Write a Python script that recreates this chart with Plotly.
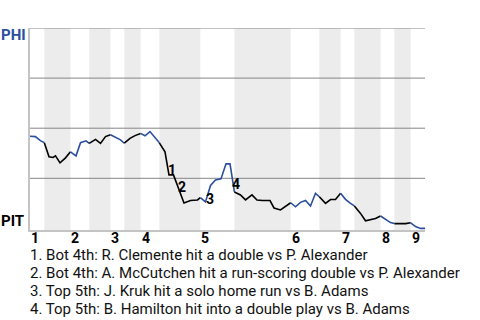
import plotly.graph_objects as go

# Win probability for PHI (0 = PIT wins, 1 = PHI wins), by plate appearance
play_x = [0, 1.1, 2.1, 2.9, 3.85, 4.66, 5.16, 6.08, 7.19, 8.2, 9.32, 10.23, 11.34, 12.0,
          13.27, 14.28, 15.29, 16.3, 17.32, 18.33, 19.1, 20.25, 21.27, 22.4, 23.29, 24.3,
          25.32, 26.2, 27.34, 28.15, 29.06, 31.19, 32.51, 33.92, 34.5, 35.54, 36.56, 37.57,
          38.68, 39.7, 40.51, 41.4, 42.63, 43.65, 44.96, 45.97, 47.09, 48.61, 49.42, 50.73,
          51.75, 52.8, 53.77, 54.78, 55.8, 56.81, 57.82, 58.6, 59.85, 60.86, 61.87, 62.9,
          63.9, 64.91, 65.7, 66.94, 67.95, 68.96, 69.97, 71.0, 72.0, 73.01, 73.8, 75.04,
          76.05, 77.1, 78.08, 79.09, 80.0]
phi_wp = [0.46, 0.458, 0.438, 0.428, 0.357, 0.354, 0.362, 0.327, 0.352, 0.382, 0.362, 0.428,
          0.437, 0.424, 0.444, 0.424, 0.458, 0.467, 0.454, 0.442, 0.425, 0.449, 0.463, 0.474,
          0.462, 0.483, 0.454, 0.427, 0.382, 0.267, 0.267, 0.127, 0.139, 0.142, 0.154, 0.132,
          0.214, 0.242, 0.247, 0.322, 0.322, 0.182, 0.167, 0.142, 0.167, 0.142, 0.139, 0.139,
          0.102, 0.092, 0.112, 0.128, 0.108, 0.13, 0.139, 0.112, 0.175, 0.158, 0.125, 0.144,
          0.144, 0.175, 0.145, 0.125, 0.112, 0.075, 0.038, 0.044, 0.049, 0.062, 0.044, 0.029,
          0.024, 0.024, 0.024, 0.028, 0.009, 0.0, 0.0]

# Half-inning boundaries (top = PHI batting, bottom = PIT batting)
half_bounds = [0, 2.9, 8.2, 12.0, 16.3, 19.1, 22.4, 26.2, 34.5, 41.4, 52.8, 58.6, 62.9,
               65.7, 71.0, 73.8, 77.1, 80.0]
inning_labels = ["1", "2", "3", "4", "5", "6", "7", "8", "9"]

# Key events
event_labels = ["1", "2", "3", "4"]
event_x = [28.7, 30.8, 36.5, 41.7]
event_y = [0.29, 0.205, 0.145, 0.22]
event_text = [
    "1. Bot 4th: R. Clemente hit a double vs P. Alexander",
    "2. Bot 4th: A. McCutchen hit a run-scoring double vs P. Alexander",
    "3. Top 5th: J. Kruk hit a solo home run vs B. Adams",
    "4. Top 5th: B. Hamilton hit into a double play vs B. Adams",
]

BLUE = "#2a4f9f"
FONT = "Roboto"

fig = go.Figure()

# Line segments per half inning
for k in range(len(half_bounds) - 1):
    a, b = half_bounds[k], half_bounds[k + 1]
    xs = [x for x in play_x if a - 1e-6 <= x <= b + 1e-6]
    ys = [y for x, y in zip(play_x, phi_wp) if a - 1e-6 <= x <= b + 1e-6]
    fig.add_trace(go.Scatter(x=xs, y=ys, mode="lines",
                             line=dict(color=BLUE if k % 2 == 0 else "#000000", width=1.6),
                             hoverinfo="skip", showlegend=False))

shapes = []
for k in range(1, len(half_bounds) - 1, 2):
    shapes.append(dict(type="rect", xref="x", yref="paper", x0=half_bounds[k],
                       x1=half_bounds[k + 1], y0=0, y1=1, fillcolor="#ececec",
                       line=dict(width=0), layer="below"))
for g in [0.25, 0.5, 0.75, 1.0]:
    shapes.append(dict(type="line", xref="paper", yref="y", x0=0, x1=1, y0=g, y1=g,
                       line=dict(color="#858585", width=1), layer="below"))

annotations = []
for i, lab in enumerate(inning_labels):
    annotations.append(dict(x=half_bounds[2 * i], y=0, xref="x", yref="paper",
                            text="<b>%s</b>" % lab, showarrow=False, xanchor="left",
                            yanchor="middle", yshift=-8, borderpad=0,
                            font=dict(family=FONT, size=14, color="#000")))
for lab, ex, ey in zip(event_labels, event_x, event_y):
    annotations.append(dict(x=ex, y=ey, xref="x", yref="y", text="<b>%s</b>" % lab,
                            showarrow=False, font=dict(family=FONT, size=14, color="#000")))
annotations.append(dict(x=0, y=1, xref="paper", yref="paper", text="<b>PHI</b>",
                        showarrow=False, xanchor="right", yanchor="middle", xshift=-2, yshift=-7,
                        font=dict(family=FONT, size=15, color=BLUE)))
annotations.append(dict(x=0, y=0, xref="paper", yref="paper", text="<b>PIT</b>",
                        showarrow=False, xanchor="right", yanchor="middle", xshift=-4, yshift=9,
                        font=dict(family=FONT, size=15, color="#000")))
for i, t in enumerate(event_text):
    annotations.append(dict(x=0, y=0, xref="paper", yref="paper", text=t, showarrow=False,
                            xanchor="left", yanchor="middle", xshift=-1, borderpad=0,
                            yshift=-(25 + 18 * i),
                            font=dict(family=FONT, size=15, color="#111")))

fig.update_layout(
    width=480, height=320,
    margin=dict(l=29.5, r=55, t=28, b=90),
    paper_bgcolor="white", plot_bgcolor="white",
    xaxis=dict(range=[0, 80], showgrid=False, zeroline=False, showticklabels=False,
               ticks="", showline=True, linecolor="#c4c4c4", linewidth=1.5, mirror=False),
    yaxis=dict(range=[-0.008, 1.0], showgrid=False, zeroline=False, showticklabels=False,
               ticks="", showline=True, linecolor="#c4c4c4", linewidth=1.5),
    shapes=shapes, annotations=annotations,
)

fig.write_html("out.html")
